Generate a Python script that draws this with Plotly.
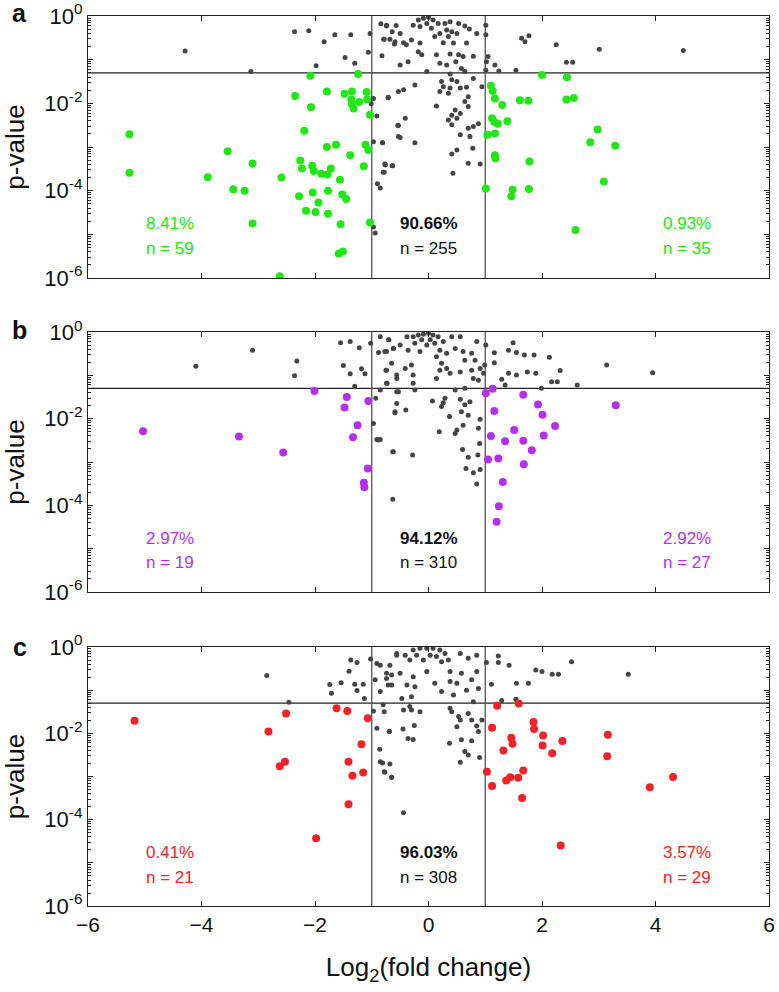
import plotly.graph_objects as go

# ---------------- data (log2 fold change, log10 p-value) ----------------
FC_THRESH = 1.0
P_THRESH = 0.05

# Panel a
a_gray_x = [-4.29,-3.13,-2.36,-2.11,-1.65,-1.37,-1.84,-1.98,-1.47,-1.30,-1.06,-1.03,-0.84,-0.74,-0.64,-0.79,-0.68,-0.60,-0.82,-0.97,
            -0.91,-0.81,-0.97,-0.71,-0.54,-0.53,-0.76,-0.80,-0.64,-0.90,-0.97,-0.94,-1.01,
            -0.74,-0.57,-0.50,-0.78,-0.59,-0.44,-0.30,-0.27,-0.18,-0.09,0.00,0.08,0.17,-0.03,-0.15,0.05,0.29,0.38,0.53,0.64,
            0.32,0.41,0.20,0.11,0.35,0.50,0.72,0.85,-0.15,0.26,0.44,0.67,-0.39,-0.18,-0.12,0.14,0.38,0.53,0.61,0.79,0.48,
            0.20,0.32,0.58,-0.50,-0.36,-0.03,0.38,0.64,1.01,1.05,1.01,1.01,1.02,1.17,1.24,1.54,1.64,1.70,1.77,2.25,2.43,
            2.54,3.01,4.49,0.23,0.41,0.50,0.26,0.38,0.56,0.67,0.79,0.94,-0.24,-0.44,-0.53,-0.71,0.20,0.35,0.70,0.64,0.70,
            0.14,0.47,0.56,0.41,0.50,0.35,0.41,-0.41,-0.53,0.70,0.79,0.88,0.56,0.73,-0.50,-0.81,-0.24,0.50,0.41,0.78,0.70,
            0.91,-0.63,-0.77,-0.78,0.43,-0.85]
a_gray_y = [-0.80,-1.27,-0.36,-0.34,-0.43,-0.43,-0.59,-1.14,-0.95,-1.08,-0.83,-0.40,-0.18,-0.23,-0.36,-0.53,-0.53,-0.64,-0.91,-1.89,
            -2.29,-2.90,-2.88,-1.87,-2.50,-2.76,-3.41,-3.58,-3.43,-3.84,-4.83,-4.97,-2.01,
            -0.21,-0.22,-0.40,-0.53,-0.59,-0.61,-0.55,-0.21,-0.09,-0.05,-0.03,-0.09,-0.17,-0.17,-0.24,-0.28,-0.17,-0.13,-0.17,-0.23,
            -0.32,-0.36,-0.40,-0.47,-0.47,-0.40,-0.30,-0.40,-0.62,-0.61,-0.62,-0.62,-0.66,-0.82,-0.89,-0.89,-0.87,-0.89,-0.93,-0.92,-1.05,
            -1.08,-1.12,-1.20,-1.12,-1.05,-1.27,-1.33,-1.27,-1.24,-0.93,-0.43,-0.21,-1.05,-1.12,-1.26,-1.24,-0.51,-0.59,-0.45,-0.66,-1.06,
            -1.06,-0.76,-0.79,-1.50,-1.46,-1.50,-1.62,-1.65,-1.65,-1.63,-1.43,-1.62,-1.58,-1.69,-1.73,-1.86,-1.73,-1.77,-1.85,-1.96,-2.07,
            -2.06,-2.15,-2.23,-2.27,-2.34,-2.38,-2.49,-2.34,-2.51,-2.57,-2.53,-2.47,-2.72,-2.76,-2.78,-2.90,-2.90,-3.07,-3.16,-3.03,-3.37,
            -3.39,-3.43,-3.39,-3.58,-3.60,-3.94]
a_left_x = [-5.27,-5.27,-3.89,-3.54,-3.44,-3.24,-3.10,-3.10,-2.62,-2.59,-2.35,-2.28,-2.26,-2.23,-2.19,-2.16,-2.08,-2.07,-2.05,-2.04,
            -2.02,-1.99,-1.94,-1.89,-1.79,-1.79,-1.78,-1.77,-1.77,-1.72,-1.63,-1.56,-1.55,-1.52,-1.45,-1.58,-1.51,-1.48,-1.38,-1.35,
            -1.36,-1.35,-1.32,-1.24,-1.22,-1.14,-1.11,-1.09,-1.08,-1.06,-1.03,-1.03]
a_left_y = [-2.71,-3.59,-3.69,-3.10,-3.97,-4.00,-3.38,-4.75,-5.96,-3.70,-1.83,-4.13,-3.31,-3.49,-2.63,-4.46,-1.37,-2.09,-3.43,-4.04,
            -3.55,-4.49,-4.27,-3.61,-1.73,-3.00,-3.63,-4.00,-4.53,-3.49,-2.95,-3.75,-4.77,-4.09,-4.19,-5.44,-5.39,-1.78,-3.19,-1.73,
            -1.91,-2.02,-2.12,-1.33,-1.97,-3.44,-2.95,-1.74,-1.91,-3.07,-2.26,-4.73]
a_right_x = [1.10,1.13,1.17,1.30,1.12,1.16,1.22,1.39,1.04,1.17,1.17,1.18,1.01,1.48,1.46,1.61,1.76,1.78,1.77,2.00,2.44,2.43,2.56,2.59,
             2.85,2.98,3.29,3.09]
a_right_y = [-1.60,-1.72,-1.89,-2.04,-2.34,-2.43,-2.47,-2.41,-2.72,-2.69,-3.19,-3.26,-3.95,-3.98,-4.13,-1.93,-1.94,-3.33,-3.96,-1.35,
             -1.40,-1.91,-1.88,-4.90,-2.89,-2.60,-2.97,-3.79]

# Panel b
b_gray_x = [-4.10,-3.10,-2.32,-2.36,-1.55,-1.38,-1.22,-1.02,-1.50,-1.38,-1.18,-1.12,-1.30,-0.88,-0.74,-0.85,-0.70,-0.62,-0.65,-0.75,
            -0.56,-0.73,-0.85,-0.93,-0.56,-0.59,-0.97,-0.91,-0.88,-0.63,-0.63,
            -0.77,-0.62,-0.70,-0.50,-0.38,-0.27,-0.18,-0.09,0.00,0.08,0.17,-0.12,0.03,-0.24,-0.03,0.11,0.26,0.41,0.56,0.85,
            -0.36,-0.15,0.20,0.32,0.14,0.47,0.61,0.76,0.64,0.82,0.23,0.32,0.38,0.20,0.56,0.76,0.91,0.97,-0.30,-0.41,-0.27,
            -0.27,-0.56,-0.74,-0.74,0.14,0.79,0.88,0.64,0.47,-0.53,-0.24,1.01,1.16,1.16,0.99,1.41,1.49,1.55,1.69,1.86,2.13,
            2.32,2.17,2.27,2.62,1.99,1.41,1.55,1.74,1.89,1.29,1.35,3.14,3.95,0.07,0.29,0.26,0.56,0.64,0.73,0.58,0.70,0.37,
            0.23,0.91,0.88,0.61,0.50,0.47,0.19,-0.56,-0.59,-0.40,-0.85,-0.62,-0.28,0.60,0.90,0.70,0.87,0.66,0.79,0.91,0.85]
b_gray_y = [-0.79,-0.42,-0.67,-1.01,-0.25,-0.22,-0.36,-0.26,-0.77,-0.96,-0.85,-0.96,-1.25,-0.47,-0.45,-0.11,-0.18,-0.38,-0.72,-0.88,
            -1.07,-1.18,-1.34,-1.53,-1.38,-1.84,-2.11,-2.48,-2.49,-2.76,-3.86,
            -0.45,-0.38,-0.18,-0.30,-0.11,-0.11,-0.07,-0.05,-0.03,-0.07,-0.11,-0.18,-0.18,-0.26,-0.30,-0.26,-0.22,-0.11,-0.11,-0.22,
            -0.42,-0.45,-0.42,-0.49,-0.57,-0.38,-0.45,-0.49,-0.65,-0.65,-0.72,-0.84,-0.95,-0.88,-0.92,-0.88,-0.84,-0.95,-0.76,-0.84,-0.99,
            -1.18,-0.99,-0.88,-1.18,-1.07,-1.07,-1.11,-1.30,-1.34,-1.38,-1.34,-0.30,-0.48,-0.71,-0.76,-0.42,-0.25,-0.47,-0.53,-0.53,-0.58,
            -0.89,-1.15,-1.15,-1.22,-1.30,-0.95,-0.99,-0.92,-0.95,-1.09,-1.22,-0.76,-0.94,-1.59,-1.53,-1.63,-1.55,-1.68,-1.61,-1.84,-1.92,-1.95,
            -1.72,-2.01,-2.22,-2.15,-2.26,-2.34,-2.30,-1.65,-1.86,-1.80,-2.48,-2.76,-2.84,-2.71,-2.57,-2.89,-2.84,-3.15,-3.25,-3.17,-3.51]
b_left_x = [-5.03,-3.34,-2.56,-2.01,-1.44,-1.48,-1.06,-1.25,-1.33,-1.07,-1.14,-1.13]
b_left_y = [-2.29,-2.41,-2.78,-1.36,-1.50,-1.74,-1.59,-2.15,-2.43,-3.15,-3.48,-3.58]
b_right_x = [1.01,1.13,1.67,1.16,1.93,2.01,2.23,1.51,1.10,1.35,1.67,2.03,1.82,1.05,1.23,1.68,1.31,1.24,1.20,3.30]
b_right_y = [-1.41,-1.31,-1.45,-1.82,-1.67,-1.91,-2.17,-2.26,-2.40,-2.52,-2.51,-2.39,-2.73,-2.94,-2.92,-3.05,-3.46,-4.02,-4.38,-1.69]

# Panel c
c_gray_x = [-2.85,-2.46,-1.74,-1.71,-1.54,-1.37,-1.26,-1.40,-1.30,-1.26,-1.15,-1.13,-1.02,-0.91,-0.85,-0.94,-0.85,-0.74,-0.65,-0.71,
            -0.56,-0.78,-0.97,-0.91,-0.69,-0.86,-0.81,-0.77,-0.65,
            -0.56,-0.41,-0.27,-0.15,-0.03,0.08,0.20,0.29,-0.21,0.03,0.14,-0.33,-0.09,0.23,0.35,0.56,0.70,0.85,1.02,1.23,1.23,
            1.42,1.89,2.00,2.18,2.29,2.52,3.52,-0.68,-0.74,-0.50,-0.27,-0.03,0.38,0.58,0.85,0.76,0.38,0.50,0.11,-0.24,-0.38,
            -0.65,0.23,0.67,0.88,1.11,1.55,1.76,0.44,-0.30,-0.47,0.79,1.29,1.54,-0.80,-0.33,-0.44,-0.30,-0.15,0.38,0.41,0.70,
            0.53,0.56,0.76,0.94,0.50,0.85,0.88,-0.25,-0.45,-0.69,-0.36,-0.27,0.58,0.76,0.37,0.64,0.70,0.90,0.56,-0.85,-0.68,
            -0.78,-0.65,-0.44]
c_gray_y = [-0.66,-1.28,-0.87,-1.07,-0.83,-0.30,-0.36,-0.56,-0.86,-1.01,-0.86,-1.19,-0.28,-0.38,-0.42,-0.76,-1.03,-0.73,-0.65,-0.88,
            -0.19,-1.50,-1.48,-1.88,-1.95,-2.37,-2.69,-2.90,-3.02,
            -0.15,-0.19,-0.07,-0.03,-0.03,-0.03,-0.07,-0.15,-0.19,-0.19,-0.22,-0.30,-0.30,-0.34,-0.30,-0.15,-0.26,-0.19,-0.36,-0.21,-0.36,
            -0.42,-0.53,-0.57,-0.63,-0.63,-0.34,-0.63,-0.42,-0.61,-0.61,-0.69,-0.57,-0.57,-0.61,-0.57,-0.76,-0.80,-0.84,-0.84,-0.92,-0.88,
            -0.88,-1.03,-1.00,-0.96,-0.86,-0.84,-0.84,-1.11,-1.15,-1.19,-1.27,-1.24,-1.21,-1.34,-1.38,-1.46,-1.46,-1.50,-1.42,-1.50,-1.54,
            -1.61,-1.69,-1.69,-1.69,-1.85,-1.83,-1.96,-1.82,-1.90,-1.96,-2.12,-2.14,-2.15,-2.17,-2.23,-2.42,-2.50,-2.56,-2.67,-2.66,-2.71,
            -2.89,-3.02,-3.84]
c_left_x = [-5.18,-2.82,-2.51,-2.53,-2.62,-1.98,-1.62,-1.43,-1.07,-1.18,-1.41,-1.34,-1.15,-1.41]
c_left_y = [-1.71,-1.96,-1.54,-2.66,-2.76,-4.43,-1.42,-1.48,-1.65,-2.25,-2.66,-2.98,-2.91,-3.64]
c_right_x = [1.21,1.59,1.12,1.46,1.48,1.32,1.03,1.12,1.37,1.44,1.58,1.67,1.65,1.85,1.86,2.02,2.01,2.18,2.36,2.33,3.16,3.15,3.90,4.31]
c_right_y = [-1.36,-1.31,-1.87,-2.10,-2.24,-2.40,-2.89,-3.22,-3.09,-3.02,-3.03,-2.86,-3.50,-1.74,-1.90,-2.05,-2.28,-2.46,-2.18,-4.60,
             -2.03,-2.53,-3.25,-3.01]

panel_letters = ["a", "b", "c"]
left_pct = ["8.41%", "2.97%", "0.41%"]
left_n = ["n = 59", "n = 19", "n = 21"]
mid_pct = ["90.66%", "94.12%", "96.03%"]
mid_n = ["n = 255", "n = 310", "n = 308"]
right_pct = ["0.93%", "2.92%", "3.57%"]
right_n = ["n = 35", "n = 27", "n = 29"]
sig_colors = ["#22e616", "#b530ea", "#f0222a"]

x_ticks = [-6, -4, -2, 0, 2, 4, 6]
y_major = [1e-6, 1e-5, 1e-4, 1e-3, 1e-2, 1e-1, 1]
y_labels = ["10<sup>-6</sup>", "", "10<sup>-4</sup>", "", "10<sup>-2</sup>", "", "10<sup>0</sup>"]

# ---------------- figure ----------------
FONT = "Liberation Sans, Arial, sans-serif"
GRAY = "#454545"
W, H = 779, 992
ML, MR, MT, MB = 88, 10, 16, 86
domains = [[0.7056, 1.0], [0.3528, 0.6449], [0.0, 0.291]]

panels = [
    (a_gray_x, a_gray_y, a_left_x, a_left_y, a_right_x, a_right_y),
    (b_gray_x, b_gray_y, b_left_x, b_left_y, b_right_x, b_right_y),
    (c_gray_x, c_gray_y, c_left_x, c_left_y, c_right_x, c_right_y),
]

minor_vals = [m * 10.0 ** e for e in range(-6, 0) for m in range(2, 10)]

fig = go.Figure()
annotations = []
for i, (gx, gy, lx, ly, rx, ry) in enumerate(panels):
    xa = "x" if i == 0 else f"x{i+1}"
    ya = "y" if i == 0 else f"y{i+1}"
    col = sig_colors[i]
    # threshold lines
    fig.add_trace(go.Scatter(x=[-6, 6], y=[P_THRESH, P_THRESH], mode="lines",
                             line=dict(color="#222222", width=1.3), xaxis=xa, yaxis=ya,
                             showlegend=False, hoverinfo="skip"))
    for fc in (-FC_THRESH, FC_THRESH):
        fig.add_trace(go.Scatter(x=[fc, fc], y=[1e-6, 1], mode="lines",
                                 line=dict(color="#555555", width=1.3), xaxis=xa, yaxis=ya,
                                 showlegend=False, hoverinfo="skip"))
    fig.add_trace(go.Scatter(x=gx, y=[10 ** v for v in gy], mode="markers",
                             marker=dict(color=GRAY, size=5), xaxis=xa, yaxis=ya,
                             showlegend=False))
    fig.add_trace(go.Scatter(x=lx + rx, y=[10 ** v for v in ly + ry], mode="markers",
                             marker=dict(color=col, size=8), xaxis=xa, yaxis=ya,
                             showlegend=False))

    axis_x = dict(domain=[0, 1], range=[-6, 6], tickvals=x_ticks, ticks="inside", ticklen=5,
                  tickcolor="#222", showline=True, linecolor="#222", linewidth=1.3, mirror="ticks",
                  showgrid=False, zeroline=False, showticklabels=(i == 2), automargin=False,
                  ticklabeloverflow="allow",
                  tickfont=dict(family=FONT, size=21, color="#111"), anchor=ya)
    if i == 2:
        axis_x["title"] = dict(text="Log<sub>2</sub>(fold change)", font=dict(family=FONT, size=26, color="#111"),
                               standoff=22)
    axis_y = dict(domain=domains[i], type="log", range=[-6, 0], tickvals=y_major, ticktext=y_labels,
                  ticks="inside", ticklen=5, tickcolor="#222", showline=True, linecolor="#222",
                  linewidth=1.3, mirror="ticks", showgrid=False, zeroline=False, automargin=False,
                  ticklabeloverflow="allow",
                  minor=dict(tickvals=minor_vals, ticks="inside", ticklen=3, tickcolor="#222"),
                  tickfont=dict(family=FONT, size=22, color="#111"), anchor=xa,
                  title=dict(text="p-value", font=dict(family=FONT, size=26, color="#111"), standoff=20))
    fig.update_layout(**{("xaxis" if i == 0 else f"xaxis{i+1}"): axis_x,
                         ("yaxis" if i == 0 else f"yaxis{i+1}"): axis_y})

    ypct, yn = -4.76, -5.33
    for xpos, t1, t2, c, bold in [(-4.55, left_pct[i], left_n[i], col, False),
                                   (0.0, mid_pct[i], mid_n[i], "#111111", True),
                                   (4.55, right_pct[i], right_n[i], col, False)]:
        annotations.append(dict(x=xpos, y=ypct, xref=xa, yref=ya, showarrow=False,
                                text=(f"<b>{t1}</b>" if bold else t1),
                                font=dict(family=FONT, size=17, color=c)))
        annotations.append(dict(x=xpos, y=yn, xref=xa, yref=ya, showarrow=False, text=t2,
                                font=dict(family=FONT, size=17, color=c)))

letter_y = [1.021, 0.665, 0.309]
for i, L in enumerate(panel_letters):
    annotations.append(dict(x=-0.1, y=letter_y[i], xref="paper", yref="paper", showarrow=False,
                            text=f"<b>{L}</b>", xanchor="center", yanchor="top",
                            font=dict(family=FONT, size=25, color="#111")))

fig.update_layout(width=W, height=H, margin=dict(l=ML, r=MR, t=MT, b=MB, autoexpand=False),
                  paper_bgcolor="white", plot_bgcolor="white", annotations=annotations,
                  showlegend=False)

# remove the browser's default 8px body margin so the figure sits at the page origin
fig.write_html("out.html", config={"displayModeBar": False},
               post_script="document.body.style.margin='0';")
